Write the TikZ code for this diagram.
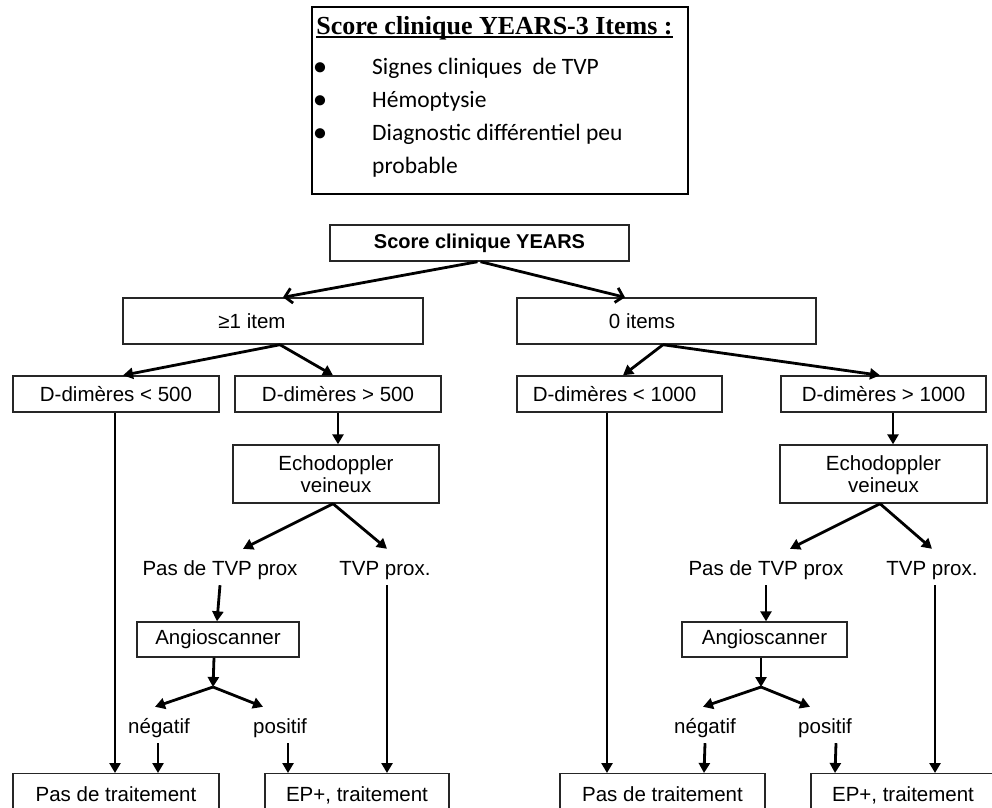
\documentclass[tikz,border=0pt]{standalone}
\usepackage{fontspec}
\setmainfont{Liberation Sans}
\newfontfamily\titlefont{Liberation Serif}
\newfontfamily\bulletfont{Carlito}
\usetikzlibrary{arrows.meta}
\begin{document}
\begin{tikzpicture}[x=1pt,y=-1pt,
  box/.style={draw=black!85, line width=1.4pt, inner sep=0pt, align=center,
    font=\fontsize{20.5}{22}\selectfont},
  endbox/.style={box, anchor=north, inner ysep=7pt, text height=21pt, text depth=40pt},
  lbl/.style={inner xsep=1pt, inner ysep=2pt, text height=24pt, text depth=8pt,
    anchor=base, font=\fontsize{20.5}{22}\selectfont},
  bul/.style={inner sep=0pt, anchor=base, font=\bulletfont\fontsize{23.5}{26}\selectfont},
  bultxt/.style={inner sep=0pt, anchor=base west, font=\bulletfont\fontsize{23.5}{26}\selectfont},
  arr/.style={line width=2.8pt, -{Triangle[length=10pt,width=11pt]}},
  openarr/.style={line width=2.8pt, -{Straight Barb[length=7pt,width=15pt]}}
]
\useasboundingbox (0,0) rectangle (992,807);

% legend box
\node[draw=black, line width=2.2pt, minimum width=376pt, minimum height=187pt, inner sep=0pt] (legend) at (500,100.5) {};
\node[inner sep=0pt, anchor=base, font=\titlefont\bfseries\fontsize{26}{30}\selectfont] (ttl) at (494.5,34) {Score clinique YEARS-3 Items :};
\draw[line width=1.6pt] ([yshift=-3pt]ttl.base west) -- ([yshift=-3pt]ttl.base east);
\node[bul, font=\bulletfont\bfseries\fontsize{24}{26}\selectfont] (b1) at (320,74) {•};
\node[bul, font=\bulletfont\bfseries\fontsize{24}{26}\selectfont] (b2) at (320,107) {•};
\node[bul, font=\bulletfont\bfseries\fontsize{24}{26}\selectfont] (b3) at (320,140) {•};
\node[bultxt] (t1) at (372,74) {Signes cliniques~ de TVP};
\node[bultxt] (t2) at (372,107) {Hémoptysie};
\node[bultxt] (t3) at (372,140) {Diagnostic différentiel peu};
\node[bultxt] (t4) at (372,173) {probable};

% flowchart boxes
\node[box, font=\bfseries\fontsize{20}{22}\selectfont, minimum width=299pt, minimum height=36pt] (score) at (479.5,243) {Score clinique YEARS};
\node[box, minimum width=300pt, minimum height=46pt] (item1) at (273,321) {≥1 item\hspace*{42pt}};
\node[box, minimum width=299pt, minimum height=46pt] (item0) at (666.5,321) {0 items\hspace*{49pt}};
\node[box, minimum width=206pt, minimum height=36pt] (d500l) at (116,394) {D-dimères < 500};
\node[box, minimum width=206pt, minimum height=36pt] (d500g) at (338,394) {D-dimères > 500};
\node[box, minimum width=205pt, minimum height=36pt] (d1000l) at (619.5,394) {D-dimères < 1000\hspace*{10pt}};
\node[box, minimum width=205pt, minimum height=36pt] (d1000g) at (883.5,394) {D-dimères > 1000};
\node[box, minimum width=206pt, minimum height=58pt] (echoA) at (336,474) {Echodoppler\\veineux};
\node[box, minimum width=207pt, minimum height=58pt] (echoB) at (883.5,474) {Echodoppler\\veineux};
\node[lbl] (pasA) at (220,575) {Pas de TVP prox};
\node[lbl] (tvpA) at (385,575) {TVP prox.};
\node[lbl] (pasB) at (766,575) {Pas de TVP prox};
\node[lbl] (tvpB) at (932,575) {TVP prox.};
\node[box, minimum width=162pt, minimum height=35pt] (angioA) at (218,639.5) {Angioscanner};
\node[box, minimum width=165pt, minimum height=35pt] (angioB) at (764.5,639.5) {Angioscanner};
\coordinate (jA) at (213,687);
\coordinate (jB) at (761,687);
\node[lbl] (negA) at (159,733) {négatif};
\node[lbl] (posA) at (280,733) {positif};
\node[lbl] (negB) at (705,733) {négatif};
\node[lbl] (posB) at (825,733) {positif};
\node[endbox, minimum width=206pt] (pdtA) at (116,773) {Pas de traitement};
\node[endbox, minimum width=184pt] (epA) at (357,773) {EP+, traitement};
\node[endbox, minimum width=205pt] (pdtB) at (662.5,773) {Pas de traitement};
\node[endbox, minimum width=184pt] (epB) at (903,773) {EP+, traitement};

% connectors
\draw[openarr] ([xshift=-2pt]score.south) -- ([xshift=10pt]item1.north);
\draw[openarr] ([xshift=1pt]score.south) -- ([xshift=-41.5pt]item0.north);
\draw[arr] ([xshift=7pt]item1.south) -- ([xshift=7pt]d500l.north);
\draw[arr] ([xshift=7pt]item1.south) -- ([xshift=-5pt]d500g.north);
\draw[arr] ([xshift=-3.5pt]item0.south) -- ([xshift=3.5pt]d1000l.north);
\draw[arr] ([xshift=-3.5pt]item0.south) -- ([xshift=-3.5pt]d1000g.north);

% left half
\draw[arr] ([xshift=-1pt]d500l.south) -- ([xshift=-1pt]d500l.south |- pdtA.north);
\draw[arr] (d500g.south) -- (d500g.south |- echoA.north);
\draw[arr] ([xshift=-3pt]echoA.south) -- ([xshift=23pt]pasA.north);
\draw[arr] ([xshift=-3pt]echoA.south) -- ([xshift=2pt]tvpA.north);
\draw[arr] (pasA.south) -- ([xshift=-1pt]angioA.north);
\draw[arr] ([xshift=-4pt]angioA.south) -- (jA);
\draw[arr] (jA) -- ([xshift=-4pt]negA.north);
\draw[arr] (jA) -- ([xshift=-17pt]posA.north);
\draw[arr] ([xshift=-1pt]negA.south) -- ([xshift=-1pt]negA.south |- pdtA.north);
\draw[arr] ([xshift=8pt]posA.south) -- ([xshift=8pt]posA.south |- epA.north);
\draw[arr] ([xshift=2pt]tvpA.south) -- ([xshift=2pt]tvpA.south |- epA.north);

% right half
\draw[arr] ([xshift=-12.5pt]d1000l.south) -- ([xshift=-12.5pt]d1000l.south |- pdtB.north);
\draw[arr] ([xshift=9.5pt]d1000g.south) -- ([xshift=9.5pt]d1000g.south |- echoB.north);
\draw[arr] ([xshift=-3.5pt]echoB.south) -- ([xshift=24pt]pasB.north);
\draw[arr] ([xshift=-3.5pt]echoB.south) -- (tvpB.north);
\draw[arr] (pasB.south) -- ([xshift=1.5pt]angioB.north);
\draw[arr] ([xshift=-3.5pt]angioB.south) -- (jB);
\draw[arr] (jB) -- ([xshift=-2pt]negB.north);
\draw[arr] (jB) -- ([xshift=-15pt]posB.north);
\draw[arr] (negB.south) -- ([xshift=-1pt]negB.south |- pdtB.north);
\draw[arr] ([xshift=11pt]posB.south) -- ([xshift=10pt]posB.south |- epB.north);
\draw[arr] ([xshift=3pt]tvpB.south) -- ([xshift=3pt]tvpB.south |- epB.north);
\end{tikzpicture}
\end{document}
